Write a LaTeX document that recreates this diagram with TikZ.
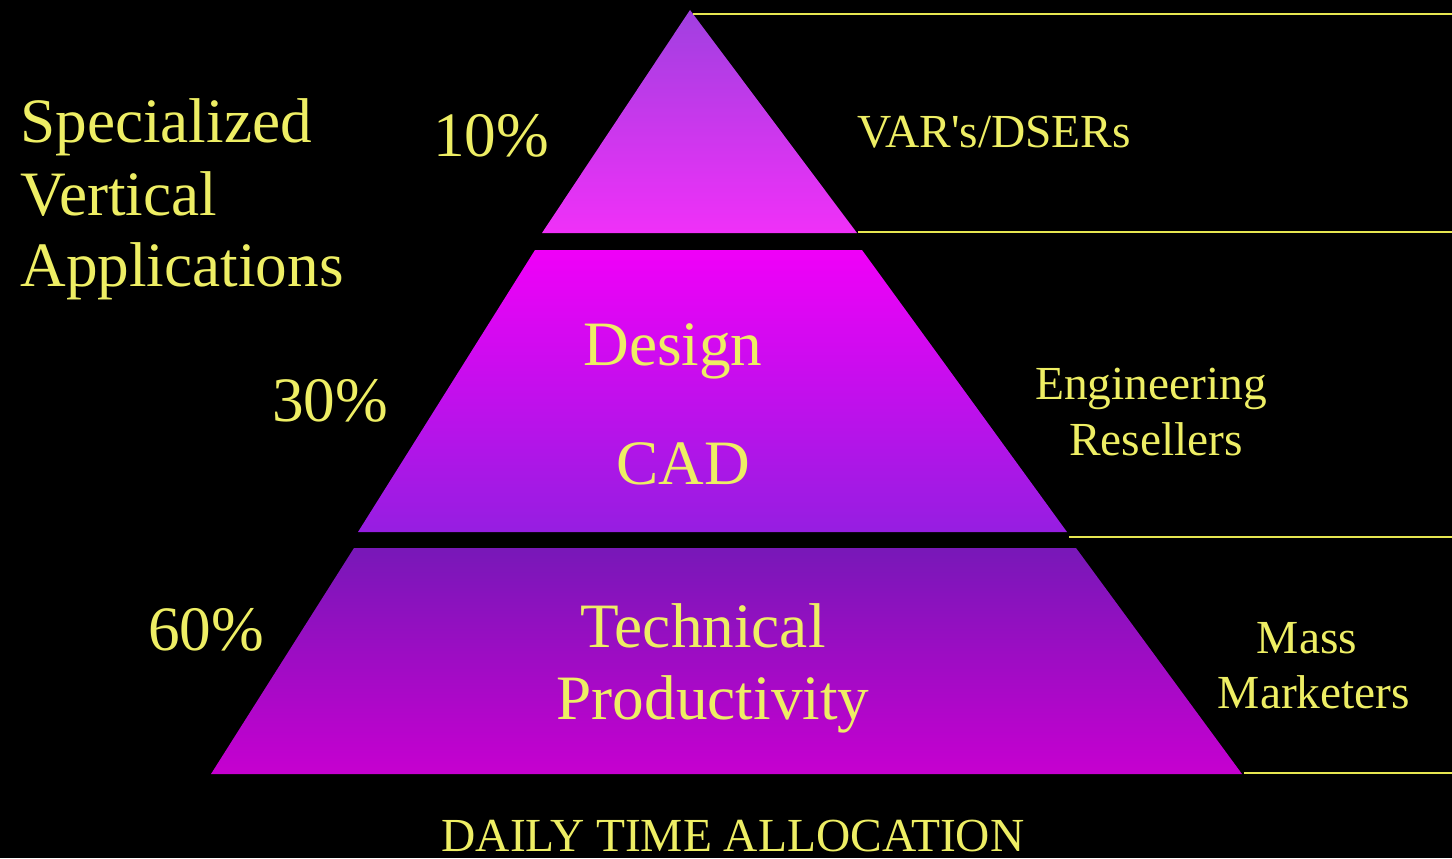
\documentclass[tikz,border=0pt]{standalone}
\usepackage{fontspec}
\setmainfont{Liberation Serif}
\usetikzlibrary{positioning}
\definecolor{labelyellow}{RGB}{238,238,100}
\definecolor{ruleyellow}{RGB}{230,230,80}
\definecolor{tipTop}{RGB}{160,64,224}
\definecolor{tipBottom}{RGB}{240,48,248}
\definecolor{midTop}{RGB}{240,0,248}
\definecolor{midBottom}{RGB}{150,30,225}
\definecolor{baseTop}{RGB}{120,24,184}
\definecolor{baseBottom}{RGB}{198,0,208}
\tikzset{
  biglabel/.style={text=labelyellow, font=\fontsize{36}{41}\selectfont, inner sep=0pt, anchor=base},
  sidelabel/.style={text=labelyellow, font=\fontsize{27}{32}\selectfont, inner sep=0pt, anchor=base},
  rule/.style={draw=ruleyellow, line width=1.6pt},
}

\begin{document}
\begin{tikzpicture}[x=0.02cm, y=-0.02cm]

% Background
\fill[black] (0,0) rectangle (1452,858);
\useasboundingbox (0,0) rectangle (1452,858);

% Tiers of the pyramid
\shade[top color=tipTop, bottom color=tipBottom] (690,10) -- (857,233) -- (542,233) -- cycle;
\shade[top color=midTop, bottom color=midBottom] (535,250) -- (862,250) -- (1067,532) -- (358,532) -- cycle;
\shade[top color=baseTop, bottom color=baseBottom] (354,548) -- (1076,548) -- (1242,774) -- (211,774) -- cycle;

% Rules to the right edge
\coordinate (tipR) at (693,14);   \coordinate (tipE) at (1452,14);
\coordinate (topR) at (858,232);  \coordinate (topE) at (1452,232);
\coordinate (midR) at (1069,537); \coordinate (midE) at (1452,537);
\coordinate (botR) at (1244,773); \coordinate (botE) at (1452,773);
\draw[rule] (tipR) -- (tipE);
\draw[rule] (topR) -- (topE);
\draw[rule] (midR) -- (midE);
\draw[rule] (botR) -- (botE);

% Left heading
\node[biglabel, anchor=base west] (spec) at (20,143) {Specialized};
\node[biglabel, anchor=base west] (vert) at (20,215) {Vertical};
\node[biglabel, anchor=base west] (apps) at (20,286) {Applications};

% Shares
\node[biglabel] (pctTen) at (491,157) {10\%};
\node[biglabel] (pctThirty) at (330,421) {30\%};
\node[biglabel] (pctSixty) at (206,650) {60\%};

% Tier texts
\node[biglabel] (design) at (673,365) {Design};
\node[biglabel] (cad) at (683,484) {CAD};
\node[biglabel] (tech) at (703,647) {Technical};
\node[biglabel] (prod) at (713,719) {Productivity};

% Channels
\node[sidelabel] (vars) at (994,148) {VAR\textquotesingle s/DSERs};
\node[sidelabel] (eng) at (1151,399) {Engineering};
\node[sidelabel] (resell) at (1156,455) {Resellers};
\node[sidelabel] (mass) at (1307,653) {Mass};
\node[sidelabel] (market) at (1314,708) {Marketers};

% Caption
\node[sidelabel] (caption) at (733,851) {DAILY TIME ALLOCATION};

\end{tikzpicture}
\end{document}
